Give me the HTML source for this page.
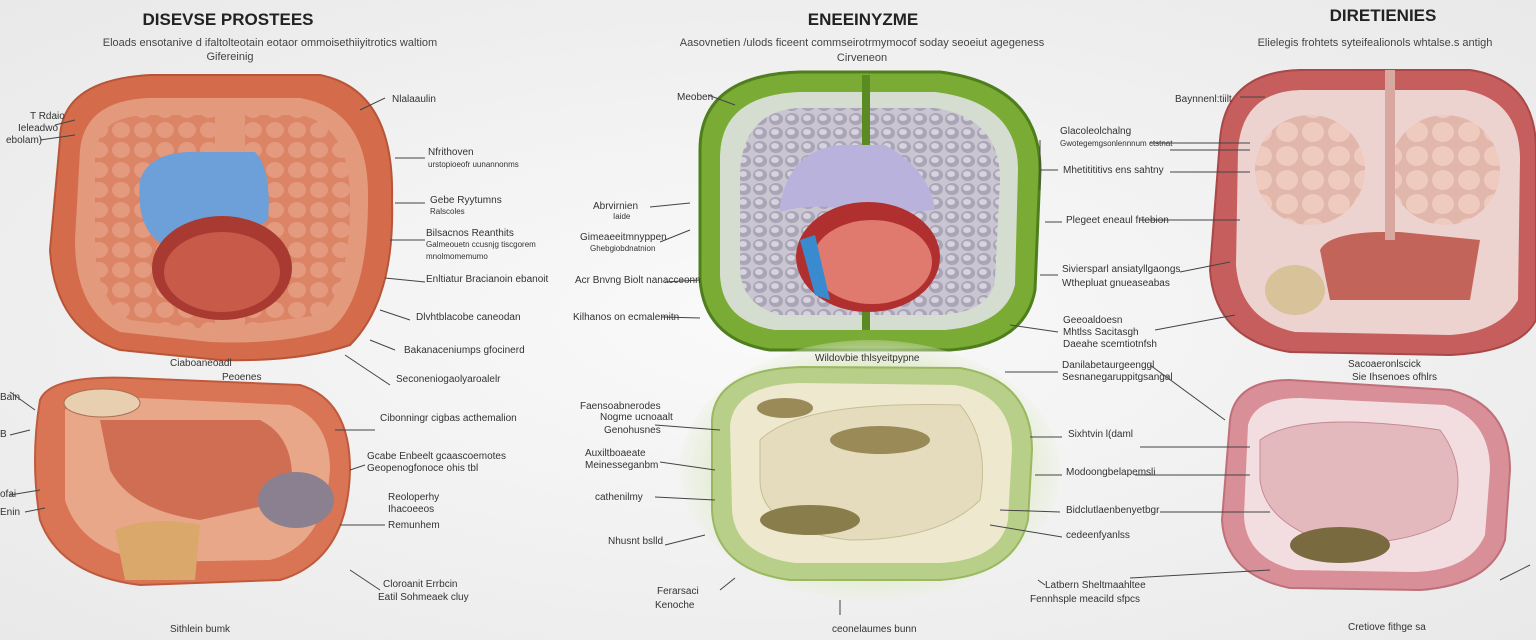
<!DOCTYPE html>
<html><head><meta charset="utf-8"><style>
html,body{margin:0;padding:0;width:1536px;height:640px;overflow:hidden;background:#f2f2f2;}
svg{display:block}
text{font-family:"Liberation Sans",sans-serif;fill:#333;}
.t{font-weight:bold;font-size:17px;fill:#222}
.s{font-size:11px;fill:#444}
.l{font-size:10px;fill:#333}
.lg{stroke:#444;stroke-width:1;fill:none}
</style></head><body>
<svg width="1536" height="640" viewBox="0 0 1536 640">
<defs>
<radialGradient id="bg" cx="50%" cy="50%" r="70%"><stop offset="0" stop-color="#fafafa"/><stop offset="1" stop-color="#e9e9e9"/></radialGradient>
<radialGradient id="gg" cx="50%" cy="50%" r="55%"><stop offset="0.7" stop-color="#dfe9c8"/><stop offset="1" stop-color="#eef2e6" stop-opacity="0"/></radialGradient>
<pattern id="dots" width="16" height="14" patternUnits="userSpaceOnUse"><rect width="16" height="14" fill="#c9c6d2"/><ellipse cx="8" cy="7" rx="7" ry="6" fill="#a9a5b6"/><ellipse cx="7" cy="6" rx="4" ry="3" fill="#d6d3de"/></pattern>
<pattern id="lobe" width="22" height="20" patternUnits="userSpaceOnUse"><rect width="22" height="20" fill="#dc8466"/><ellipse cx="11" cy="10" rx="9" ry="8" fill="#e49a7e"/></pattern>
<pattern id="plobe" width="26" height="24" patternUnits="userSpaceOnUse"><rect width="26" height="24" fill="#e2b7ab"/><ellipse cx="13" cy="12" rx="11" ry="10" fill="#eecabf"/></pattern>
</defs>
<rect width="1536" height="640" fill="url(#bg)"/>
<text class="t" x="228" y="25" text-anchor="middle">DISEVSE PROSTEES</text>
<text class="s" x="270" y="46" text-anchor="middle">Eloads ensotanive d ifaltolteotain eotaor ommoisethiiyitrotics waltiom</text>
<text class="s" x="230" y="60" text-anchor="middle">Gifereinig</text>
<text class="t" x="863" y="25" text-anchor="middle">ENEEINYZME</text>
<text class="s" x="862" y="46" text-anchor="middle">Aasovnetien /ulods ficeent commseirotrmymocof soday seoeiut agegeness</text>
<text class="s" x="862" y="61" text-anchor="middle">Cirveneon</text>
<text class="t" x="1383" y="21" text-anchor="middle">DIRETIENIES</text>
<text class="s" x="1375" y="46" text-anchor="middle">Elielegis frohtets syteifealionols whtalse.s antigh</text>

<!-- Organ 1 -->
<path d="M60,140 Q60,80 150,75 L320,75 Q395,90 392,200 Q395,300 350,345 Q300,362 220,360 L120,350 Q55,330 50,250 Z" fill="#d46c4c" stroke="#b85538" stroke-width="2"/>
<path d="M80,150 Q85,100 150,98 L300,98 Q370,110 368,200 Q368,300 330,330 Q280,345 210,342 L120,332 Q75,310 75,240 Z" fill="#e39a7c"/>
<path d="M95,160 Q95,115 150,115 L215,115 L215,330 L130,320 Q95,300 95,240 Z" fill="url(#lobe)"/>
<path d="M245,115 L300,115 Q350,125 350,200 Q350,290 320,315 L245,325 Z" fill="url(#lobe)"/>
<path d="M140,180 Q150,150 200,152 L255,152 Q272,170 268,220 Q240,240 170,248 Q135,235 140,180 Z" fill="#6d9fd8"/>
<ellipse cx="222" cy="268" rx="70" ry="52" fill="#a83a32"/>
<ellipse cx="222" cy="272" rx="58" ry="40" fill="#c85a4a"/>
<!-- Organ 2 -->
<path d="M40,400 Q50,375 130,378 L300,385 Q350,400 350,470 Q348,560 280,580 L140,585 Q60,575 40,520 Q30,460 40,400 Z" fill="#d97454" stroke="#c05a3e" stroke-width="2"/>
<path d="M65,410 Q80,395 140,398 L290,405 Q330,420 330,470 Q325,545 270,560 L150,562 Q80,550 65,500 Z" fill="#e9a78a"/>
<path d="M100,420 L260,420 Q300,440 290,500 L200,520 Q130,510 110,470 Z" fill="#cf6e52"/>
<ellipse cx="102" cy="403" rx="38" ry="14" fill="#e8cfb0" stroke="#a87050"/>
<path d="M115,530 Q150,515 200,525 L195,580 L125,580 Z" fill="#d9a86a"/>
<ellipse cx="296" cy="500" rx="38" ry="28" fill="#8a8090"/>

<!-- Organ 3 -->
<path d="M700,150 Q700,75 800,72 L940,72 Q1040,85 1040,170 L1035,290 Q1025,345 950,350 L770,350 Q705,340 700,280 Z" fill="#7aab35" stroke="#4f7f1c" stroke-width="3"/>
<path d="M720,155 Q722,95 800,92 L935,92 Q1018,102 1018,170 L1015,285 Q1005,325 945,330 L775,330 Q722,322 720,275 Z" fill="#d5ddd0"/>
<path d="M740,170 Q745,110 800,108 L935,108 Q1000,118 1000,180 L995,280 Q990,312 940,315 L780,315 Q742,305 740,270 Z" fill="url(#dots)"/>
<rect x="862" y="75" width="8" height="255" fill="#5a8a22"/>
<path d="M780,205 Q790,150 840,145 L885,145 Q930,170 935,210 L870,215 Q820,200 780,212 Z" fill="#b9b2dc"/>
<ellipse cx="868" cy="257" rx="72" ry="55" fill="#b03030"/>
<ellipse cx="872" cy="262" rx="60" ry="42" fill="#e07a6e"/>
<path d="M800,240 L815,235 L830,300 L815,295 Z" fill="#3a8ad0"/>

<!-- Organ 4 -->
<ellipse cx="870" cy="470" rx="190" ry="130" fill="url(#gg)"/>
<path d="M712,420 Q715,370 800,367 L960,368 Q1032,380 1032,450 L1028,520 Q1015,575 940,580 L790,580 Q715,570 712,510 Z" fill="#b7cf88" stroke="#9ab860" stroke-width="2"/>
<path d="M730,425 Q735,385 800,383 L955,385 Q1012,395 1012,450 L1008,520 Q1000,560 940,563 L795,563 Q735,555 732,510 Z" fill="#eee8cf"/>
<path d="M760,440 Q800,400 960,405 Q990,440 980,500 Q940,540 850,540 Q760,530 760,480 Z" fill="#e4dcbc" stroke="#c8bd94"/>
<ellipse cx="880" cy="440" rx="50" ry="14" fill="#9a8a58"/>
<ellipse cx="810" cy="520" rx="50" ry="15" fill="#8a7d4c"/>
<ellipse cx="785" cy="408" rx="28" ry="10" fill="#9a8a58"/>

<!-- Organ 5 -->
<path d="M1220,140 Q1225,72 1300,70 L1470,70 Q1536,80 1536,150 L1536,320 Q1520,352 1450,355 L1290,352 Q1215,340 1210,270 Z" fill="#c65e5e" stroke="#a84848" stroke-width="2"/>
<path d="M1238,150 Q1242,92 1300,90 L1465,90 Q1520,100 1520,160 L1518,300 Q1500,332 1450,335 L1295,332 Q1240,320 1236,265 Z" fill="#edd3d0"/>
<ellipse cx="1310" cy="170" rx="55" ry="55" fill="url(#plobe)"/>
<ellipse cx="1445" cy="170" rx="55" ry="55" fill="url(#plobe)"/>
<path d="M1320,250 Q1330,230 1400,232 L1480,240 L1470,300 L1330,300 Z" fill="#c2645a"/>
<rect x="1385" y="70" width="10" height="170" fill="#d8a8a0"/>
<ellipse cx="1295" cy="290" rx="30" ry="25" fill="#d8c29a"/>

<!-- Organ 6 -->
<path d="M1230,420 Q1235,380 1290,380 L1450,390 Q1510,405 1510,470 L1505,540 Q1490,585 1420,590 L1290,588 Q1225,575 1222,520 Z" fill="#d98f98" stroke="#c07078" stroke-width="2"/>
<path d="M1248,425 Q1255,398 1300,398 L1445,405 Q1490,420 1490,470 L1485,535 Q1470,570 1415,572 L1295,570 Q1245,558 1244,515 Z" fill="#f2dee0"/>
<path d="M1260,440 Q1300,410 1440,430 Q1470,470 1450,520 Q1400,550 1320,540 Q1265,520 1260,480 Z" fill="#e3b9be" stroke="#c68a92"/>
<ellipse cx="1340" cy="545" rx="50" ry="18" fill="#7a6a40"/>

<g class="l">
<text x="30" y="119">T Rdaio</text><text x="18" y="131">Ieleadwo</text><text x="6" y="143">ebolam)</text>
<text x="392" y="102">Nlalaaulin</text>
<text x="428" y="155">Nfrithoven</text><text x="428" y="167" style="font-size:8px">urstopioeofr uunannonms</text>
<text x="430" y="203">Gebe Ryytumns</text><text x="430" y="214" style="font-size:8px">Ralscoles</text>
<text x="426" y="236">Bilsacnos Reanthits</text><text x="426" y="247" style="font-size:8px">Galmeouetn ccusnjg tiscgorem</text><text x="426" y="259" style="font-size:8px">mnolmomemumo</text>
<text x="426" y="282">Enltiatur Bracianoin ebanoit</text>
<text x="416" y="320">Dlvhtblacobe caneodan</text>
<text x="404" y="353">Bakanaceniumps gfocinerd</text>
<text x="170" y="366">Ciaboaneoadl</text><text x="222" y="380">Peoenes</text>
<text x="396" y="382">Seconeniogaolyaroalelr</text>
<text x="0" y="400">Bain</text><text x="0" y="437">B</text><text x="0" y="497">ofai</text><text x="0" y="515">Enin</text>
<text x="380" y="421">Cibonningr cigbas acthemalion</text>
<text x="367" y="459">Gcabe Enbeelt gcaascoemotes</text><text x="367" y="471">Geopenogfonoce ohis tbl</text>
<text x="388" y="500">Reoloperhy</text><text x="388" y="512">Ihacoeeos</text><text x="388" y="528">Remunhem</text>
<text x="383" y="587">Cloroanit Errbcin</text><text x="378" y="600">Eatil Sohmeaek cluy</text>
<text x="170" y="632">Sithlein bumk</text>
</g>
<g class="lg">
<path d="M360,110 L385,98 M395,158 L425,158 M395,203 L425,203 M390,240 L425,240 M385,278 L425,282 M380,310 L410,320 M370,340 L395,350 M345,355 L390,385 M55,125 L75,120 M40,140 L75,135 M335,430 L375,430 M350,470 L365,465 M340,525 L385,525 M350,570 L380,590 M10,392 L35,410 M10,435 L30,430 M10,495 L40,490 M25,512 L45,508"/>
</g>
<g class="l">
<text x="677" y="100">Meoben</text>
<text x="593" y="209">Abrvirnien</text><text x="613" y="219" style="font-size:8px">Iaide</text>
<text x="580" y="240">Gimeaeeitmnyppen</text><text x="590" y="251" style="font-size:8px">Ghebgiobdnatnion</text>
<text x="575" y="283">Acr Bnvng Biolt nanacceonn</text>
<text x="573" y="320">Kilhanos on ecmalemitn</text>
<text x="815" y="361">Wildovbie thlsyeitpypne</text>
<text x="580" y="409">Faensoabnerodes</text><text x="600" y="420">Nogme ucnoaalt</text><text x="604" y="433">Genohusnes</text>
<text x="585" y="456">Auxiltboaeate</text><text x="585" y="468">Meinesseganbm</text>
<text x="595" y="500">cathenilmy</text>
<text x="608" y="544">Nhusnt bslld</text>
<text x="657" y="594">Ferarsaci</text><text x="655" y="608">Kenoche</text>
<text x="832" y="632">ceonelaumes bunn</text>
<text x="1060" y="134">Glacoleolchalng</text><text x="1060" y="146" style="font-size:8px">Gwotegemgsonlennnum ctstnat</text>
<text x="1063" y="173">Mhetitititivs ens sahtny</text>
<text x="1066" y="223">Plegeet eneaul frtebion</text>
<text x="1062" y="272">Siviersparl ansiatyllgaongs</text><text x="1062" y="286">Wthepluat gnueaseabas</text>
<text x="1063" y="323">Geeoaldoesn</text><text x="1063" y="335">Mhtlss Sacitasgh</text><text x="1063" y="347">Daeahe scemtiotnfsh</text>
<text x="1062" y="368">Danilabetaurgeenggl</text><text x="1062" y="380">Sesnanegaruppitgsangal</text>
<text x="1068" y="437">Sixhtvin l(daml</text>
<text x="1066" y="475">Modoongbelapemsli</text>
<text x="1066" y="513">Bidclutlaenbenyetbgr</text>
<text x="1066" y="538">cedeenfyanlss</text>
<text x="1045" y="588">Latbern Sheltmaahltee</text><text x="1030" y="602">Fennhsple meacild sfpcs</text>
</g>
<g class="lg">
<path d="M708,95 L735,105 M650,207 L690,203 M660,242 L690,230 M665,282 L700,280 M662,317 L700,318 M655,425 L720,430 M660,462 L715,470 M655,497 L715,500 M665,545 L705,535 M720,590 L735,578 M1040,140 L1040,190 M1040,170 L1058,170 M1045,222 L1062,222 M1040,275 L1058,275 M1010,325 L1058,332 M1005,372 L1058,372 M1030,437 L1062,437 M1035,475 L1062,475 M1000,510 L1060,512 M990,525 L1062,537 M840,600 L840,615 M1038,580 L1045,585"/>
</g>
<g class="l">
<text x="1175" y="102">Baynnenl:tiilt</text>
<text x="1348" y="367">Sacoaeronlscick</text><text x="1352" y="380">Sie Ihsenoes ofhlrs</text>
<text x="1348" y="630">Cretiove fithge sa</text>
</g>
<g class="lg">
<path d="M1240,97 L1265,97 M1150,143 L1250,143 M1170,172 L1250,172 M1140,220 L1240,220 M1180,272 L1230,262 M1155,330 L1235,315 M1150,365 L1225,420 M1140,447 L1250,447 M1135,475 L1250,475 M1160,512 L1270,512 M1130,578 L1270,570 M1500,580 L1530,565 M1170,150 L1250,150"/>
</g>
</svg>
</body></html>
